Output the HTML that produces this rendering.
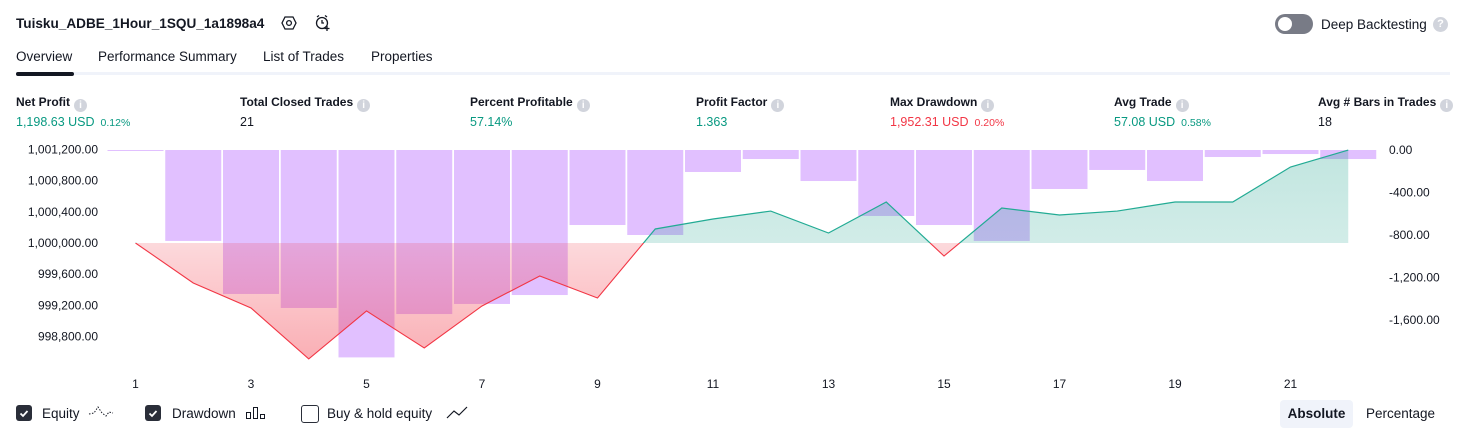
<!DOCTYPE html>
<html><head><meta charset="utf-8"><style>
body{margin:0;width:1466px;height:438px;overflow:hidden;background:#fff;font-family:"Liberation Sans",sans-serif;color:#131722;position:relative}
.a{position:absolute;white-space:nowrap}
.lbl{font-size:12px;font-weight:bold;color:#131722}
.val{font-size:12.5px}
.g{color:#089981}.r{color:#f23645}
.pct{font-size:10.5px;margin-left:6px}
.info{display:inline-block;width:13px;height:13px;border-radius:50%;background:#d1d4dc;color:#fff;font-size:10px;text-align:center;line-height:13px;vertical-align:-2px;margin-left:4px;font-weight:bold}
.tab{font-size:13.5px;top:49px}
.cb{width:16px;height:16px;border-radius:3px;top:405px}
.lg{font-size:13.5px;top:406px}
</style></head><body>
<div class="a" style="left:16px;top:16px;font-size:13.6px;font-weight:bold">Tuisku_ADBE_1Hour_1SQU_1a1898a4</div>
<svg class="a" style="left:281px;top:15px" width="16" height="16" viewBox="0 0 16 16"><polygon points="4,2 12,2 15,8 12,14 4,14 1,8" fill="none" stroke="#131722" stroke-width="1.3"/><circle cx="8" cy="8" r="2.4" fill="none" stroke="#131722" stroke-width="1.3"/></svg>
<svg class="a" style="left:314px;top:14px" width="18" height="18" viewBox="0 0 18 18"><circle cx="8" cy="9" r="5.5" fill="none" stroke="#131722" stroke-width="1.3"/><path d="M8 6v3h2M3 3l2-1.5M13 3l-2-1.5M13 12v5M10.5 14.5h5" stroke="#131722" stroke-width="1.3" fill="none"/></svg>
<div class="a" style="left:1275px;top:14px;width:38px;height:20px;border-radius:10px;background:#787b86"><div style="position:absolute;left:3px;top:3px;width:14px;height:14px;border-radius:50%;background:#fff"></div></div>
<div class="a" style="left:1321px;top:17px;font-size:13.5px">Deep Backtesting</div>
<div class="a" style="left:1433px;top:17px;width:15px;height:15px;border-radius:50%;background:#d1d4dc;color:#fff;font-size:11px;text-align:center;line-height:15px;font-weight:bold">?</div>
<div class="a tab" style="left:16px">Overview</div>
<div class="a tab" style="left:98px">Performance Summary</div>
<div class="a tab" style="left:263px">List of Trades</div>
<div class="a tab" style="left:371px">Properties</div>
<div class="a" style="left:16px;top:72px;width:1434px;height:3px;background:#f0f3fa"></div>
<div class="a" style="left:16px;top:72px;width:58px;height:4px;border-radius:2px;background:#131722"></div>

<div class="a lbl" style="left:16px;top:95px">Net Profit<span class="info">i</span></div>
<div class="a val g" style="left:16px;top:115px">1,198.63 USD<span class="pct">0.12%</span></div>
<div class="a lbl" style="left:240px;top:95px">Total Closed Trades<span class="info">i</span></div>
<div class="a val" style="left:240px;top:115px">21</div>
<div class="a lbl" style="left:470px;top:95px">Percent Profitable<span class="info">i</span></div>
<div class="a val g" style="left:470px;top:115px">57.14%</div>
<div class="a lbl" style="left:696px;top:95px">Profit Factor<span class="info">i</span></div>
<div class="a val g" style="left:696px;top:115px">1.363</div>
<div class="a lbl" style="left:890px;top:95px">Max Drawdown<span class="info">i</span></div>
<div class="a val r" style="left:890px;top:115px">1,952.31 USD<span class="pct">0.20%</span></div>
<div class="a lbl" style="left:1114px;top:95px">Avg Trade<span class="info">i</span></div>
<div class="a val g" style="left:1114px;top:115px">57.08 USD<span class="pct">0.58%</span></div>
<div class="a lbl" style="left:1318px;top:95px">Avg # Bars in Trades<span class="info">i</span></div>
<div class="a val" style="left:1318px;top:115px">18</div>

<svg class="a" id="chart" style="left:0;top:0" width="1466" height="400">
<defs>
<linearGradient id="gg" x1="0" y1="0" x2="0" y2="1"><stop offset="0" stop-color="#089981" stop-opacity="0.25"/><stop offset="1" stop-color="#089981" stop-opacity="0.1"/></linearGradient>
<linearGradient id="rg" x1="0" y1="0" x2="0" y2="1"><stop offset="0" stop-color="#f23645" stop-opacity="0.02"/><stop offset="1" stop-color="#f23645" stop-opacity="0.4"/></linearGradient>
<clipPath id="above"><rect x="0" y="0" width="1466" height="243"/></clipPath>
<clipPath id="below"><rect x="0" y="243" width="1466" height="200"/></clipPath>
</defs>
</svg>

<div class="a cb" style="left:16px;background:#2a2e39"><svg width="16" height="16"><path d="M4.5 8.5l2.5 2.5 4.5-5" stroke="#fff" stroke-width="1.8" fill="none"/></svg></div>
<div class="a lg" style="left:42px">Equity</div>
<svg class="a" style="left:88px;top:404px" width="26" height="16"><path d="M1 10l5-1 4-6 4 6 4 3 3-4 4 1" stroke="#131722" stroke-dasharray="1.5 1.5" fill="none"/></svg>
<div class="a cb" style="left:145px;background:#2a2e39"><svg width="16" height="16"><path d="M4.5 8.5l2.5 2.5 4.5-5" stroke="#fff" stroke-width="1.8" fill="none"/></svg></div>
<div class="a lg" style="left:172px">Drawdown</div>
<svg class="a" style="left:245px;top:405px" width="22" height="16"><rect x="1.5" y="7.5" width="4" height="6" fill="none" stroke="#131722"/><rect x="8.5" y="2.5" width="4" height="11" fill="none" stroke="#131722"/><rect x="15.5" y="9.5" width="4" height="4" fill="none" stroke="#131722"/></svg>
<div class="a cb" style="left:301px;border:1.3px solid #2a2e39;box-sizing:border-box;width:18px;height:18px"></div>
<div class="a lg" style="left:327px">Buy &amp; hold equity</div>
<svg class="a" style="left:445px;top:405px" width="24" height="16"><path d="M2 13l7-7 5 4 8-8" stroke="#131722" stroke-width="1.2" fill="none"/></svg>
<div class="a" style="left:1280px;top:400px;width:73px;height:28px;border-radius:4px;background:#f0f3fa;font-size:13.5px;font-weight:bold;text-align:center;line-height:28px">Absolute</div>
<div class="a" style="left:1366px;top:406px;font-size:13.5px">Percentage</div>

<script>
const trades = [1,2,3,4,5,6,7,8,9,10,11,12,13,14,15,16,17,18,19,20,21,22];
const equity = [1000000,999487,999166,998512,999128,998653,999192,999577,999294,1000180,1000308,1000410,1000128,1000526,999833,1000449,1000359,1000410,1000526,1000526,1000975,1001193];
const drawdown = [-5,-856,-1355,-1487,-1952,-1544,-1449,-1365,-706,-800,-207,-85,-292,-621,-706,-856,-367,-188,-292,-66,-38,-85];
const leftTicks = [1001200,1000800,1000400,1000000,999600,999200,998800];
const rightTicks = [0,-400,-800,-1200,-1600];
const xTicks = [1,3,5,7,9,11,13,15,17,19,21];
const baseEquity = 1000000;

const NS='http://www.w3.org/2000/svg';
const svg=document.getElementById('chart');
const xS=t=>135.5+(t-1)*57.75;
const yL=v=>243+(baseEquity-v)*(187/2400);
const yR=v=>150-v*(170/1600);
function mk(tag,attrs,parent){const e=document.createElementNS(NS,tag);for(const k in attrs)e.setAttribute(k,attrs[k]);(parent||svg).appendChild(e);return e;}

trades.forEach((t,i)=>{
  const y0=yR(0),y1=yR(drawdown[i]);
  const b=mk('rect',{x:xS(t)-28,y:y0,width:56,height:Math.max(1,y1-y0),fill:'#c98cff','fill-opacity':0.55});
  
  
});
const by=yL(baseEquity);
let pts=trades.map((t,i)=>xS(t)+','+yL(equity[i])).join(' ');
const area='M'+xS(trades[0])+','+by+' L'+pts.split(' ').join(' L')+' L'+xS(trades[trades.length-1])+','+by+' Z';
const ga=mk('path',{d:area,fill:'url(#gg)','clip-path':'url(#above)'});


const ra=mk('path',{d:area,fill:'url(#rg)','clip-path':'url(#below)'});


const gl=mk('polyline',{points:pts,fill:'none',stroke:'#22ab94','stroke-width':1.2,'clip-path':'url(#above)'});


const rl=mk('polyline',{points:pts,fill:'none',stroke:'#f23645','stroke-width':1.1,'clip-path':'url(#below)'});


leftTicks.forEach(v=>{
  const t=mk('text',{x:98,y:yL(v)+4,'text-anchor':'end','font-size':12,fill:'#131722'});
  t.textContent=v.toLocaleString('en-US',{minimumFractionDigits:2});
  
  
});
rightTicks.forEach(v=>{
  const t=mk('text',{x:1389,y:yR(v)+4,'font-size':12,fill:'#131722'});
  t.textContent=(v===0?'0.00':v.toLocaleString('en-US',{minimumFractionDigits:2}));
  
  
});
xTicks.forEach(v=>{
  const t=mk('text',{x:xS(v),y:388,'text-anchor':'middle','font-size':12,fill:'#131722'});
  t.textContent=v;
  
  
});
</script>
</body></html>
